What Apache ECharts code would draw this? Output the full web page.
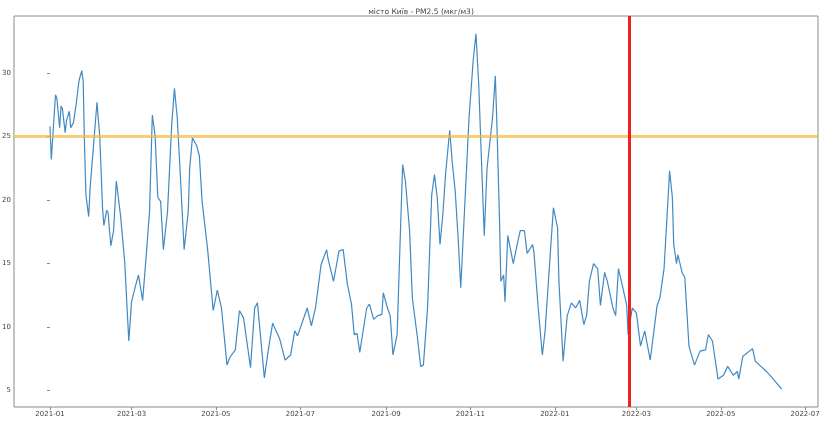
<!DOCTYPE html>
<html>
<head>
<meta charset="utf-8">
<script src="https://cdn.jsdelivr.net/npm/echarts@6/dist/echarts.min.js"></script>
<style>
html,body{margin:0;padding:0;background:#fff;}
#c{width:823px;height:427px;}
</style>
</head>
<body>
<div id="c"></div>
<script>
// Days since 2021-01-01
const days = [0,1,4,5,7,8,9,11,12,14,15,17,19,21,23,24,25,26,28,29,34,36,38,39,41,42,44,46,48,51,54,57,59,62,64,67,69,72,74,76,78,80,82,85,88,90,92,94,97,100,101,103,106,108,110,114,118,121,124,128,130,134,137,140,145,148,150,155,158,161,166,170,174,177,179,186,189,192,196,200,201,205,206,209,212,215,218,220,222,224,229,231,234,237,240,241,244,246,248,251,253,255,257,260,262,266,268,270,273,276,278,280,282,284,286,289,291,293,295,297,303,306,308,310,312,314,316,320,322,323,325,326,328,329,331,335,338,340,343,345,349,350,353,356,358,362,364,367,368,371,374,375,377,380,381,383,386,388,390,393,396,398,401,403,407,409,411,414,417,418,421,424,427,430,434,439,441,444,448,450,451,453,454,457,459,462,466,470,474,476,479,483,487,490,494,497,498,501,508,510,513,518,523,529];
// PM2.5 values (мкг/м3)
const pm25 = [25.8,23.2,28.3,28.0,25.7,27.4,27.2,25.3,26.3,27.0,25.7,26.1,27.6,29.4,30.2,29.4,24.3,20.4,18.7,20.9,27.7,25.0,19.4,18.0,19.2,19.0,16.4,17.6,21.5,18.8,15.2,8.9,12.0,13.3,14.1,12.1,14.8,19.1,26.7,25.1,20.2,19.9,16.1,19.1,25.9,28.8,26.5,22.5,16.1,19.1,22.5,24.9,24.3,23.5,19.9,16.1,11.3,12.9,11.5,7.0,7.6,8.2,11.3,10.7,6.8,11.5,11.9,6.0,8.3,10.3,9.1,7.4,7.8,9.7,9.3,11.5,10.1,11.5,14.9,16.1,15.4,13.6,13.5,16.0,16.1,13.4,11.8,9.4,9.5,8.0,11.5,11.8,10.6,10.9,11.0,12.7,11.5,10.9,7.8,9.4,16.2,22.8,21.5,17.6,12.3,8.9,6.9,7.0,11.5,20.4,22.0,20.2,16.5,18.8,22.0,25.5,22.8,20.7,17.2,13.1,26.5,31.0,33.1,29.1,23.1,17.2,22.5,26.5,29.8,26.5,18.6,13.6,14.1,12.0,17.2,15.0,16.6,17.6,17.6,15.8,16.5,15.8,11.5,7.8,9.7,16.2,19.4,17.8,13.6,7.3,10.9,10.9,11.9,11.5,11.7,12.1,10.2,10.9,13.6,15.0,14.6,11.7,14.3,13.6,11.5,10.9,14.6,13.2,11.7,9.4,11.5,11.1,8.5,9.7,7.4,11.7,12.3,14.6,22.3,20.2,16.5,15.0,15.7,14.3,13.9,8.5,7.0,8.1,8.2,9.4,8.9,5.9,6.2,6.9,6.2,6.5,5.9,7.7,8.3,7.3,7.0,6.5,5.9,5.1];
// X tick positions (days since 2021-01-01) and their labels
const xTickDays = [0,59,120,181,243,304,365,424,485,546];
const xTickLabels = ['2021-01','2021-03','2021-05','2021-07','2021-09','2021-11','2022-01','2022-03','2022-05','2022-07'];
const yTicks = [5,10,15,20,25,30];
const limitValue = 25;          // horizontal reference line
const eventDay = 419;           // 2022-02-24
const title = 'місто Київ - PM2.5 (мкг/м3)';

const chart = echarts.init(document.getElementById('c'), null, {renderer:'canvas'});
const FONT = 'DejaVu Sans';
const frame = '#8a8a8a';
chart.setOption({
  animation:false,
  backgroundColor:'#fff',
  title:{text:title,left:416,textAlign:'center',top:3,
    textStyle:{fontFamily:FONT,fontSize:7.5,fontWeight:'normal',color:'#444'}},
  grid:{left:14,right:5,top:16,bottom:20,show:true,borderColor:frame,borderWidth:1,outerBoundsMode:'none'},
  xAxis:{type:'value',min:-26,max:555.3,
    splitLine:{show:false},axisLine:{show:false},
    axisTick:{show:true,inside:false,length:3,lineStyle:{color:frame},customValues:xTickDays},
    axisLabel:{customValues:xTickDays,margin:4,fontFamily:FONT,fontSize:7,color:'#444',
      formatter:v=>{const i=xTickDays.indexOf(Math.round(v));return i>=0?xTickLabels[i]:'';}}},
  yAxis:{type:'value',min:3.7,max:34.5,
    splitLine:{show:false},axisLine:{show:false},
    axisTick:{show:true,inside:false,length:3,lineStyle:{color:frame},customValues:yTicks},
    axisLabel:{customValues:yTicks,margin:3,fontFamily:FONT,fontSize:7,color:'#444'}},
  series:[
    {type:'line',data:[],z:1,silent:true,
      markLine:{symbol:'none',silent:true,label:{show:false},animation:false,
        lineStyle:{color:'rgba(244,184,60,0.7)',width:3,type:'solid'},
        data:[{yAxis:limitValue}]}},
    {type:'line',z:2,data:days.map((d,i)=>[d,pm25[i]]),showSymbol:false,smooth:false,
      lineStyle:{color:'#4189c2',width:1.2}},
    {type:'line',data:[],z:3,silent:true,
      markLine:{symbol:'none',silent:true,label:{show:false},animation:false,
        lineStyle:{color:'#ee2020',width:3,type:'solid'},
        data:[{xAxis:eventDay}]}}
  ]
});
</script>
</body>
</html>
